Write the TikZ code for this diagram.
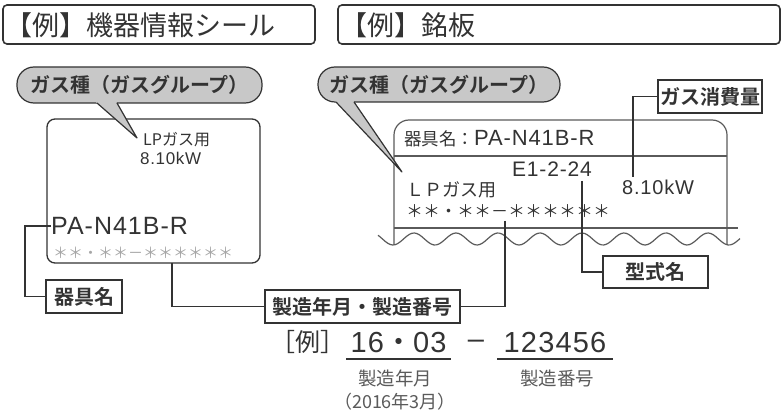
\documentclass[tikz,border=0pt]{standalone}
\usepackage{fontspec}
\setmainfont{Noto Sans CJK JP}[BoldFont={Noto Sans CJK JP Bold}]
\newfontfamily\lat[LetterSpace=4]{Liberation Sans}
\usetikzlibrary{positioning}

\definecolor{tinta}{HTML}{333333}
\definecolor{cinza}{HTML}{5A5A5A}
\definecolor{balao}{HTML}{C8C8C8}

\tikzset{
  fs/.style={font=\fontsize{#1}{#1}\selectfont},
  lt/.style={font=\lat\fontsize{#1}{#1}\selectfont},
  titulo/.style={draw=tinta, line width=1.6pt, rounded corners=4pt},
  bolha/.style={draw=tinta, fill=balao, line width=1.2pt, rounded corners=17pt,
    inner sep=0pt, font=\bfseries\fontsize{20}{20}\selectfont},
  cauda/.style={draw=tinta, line width=1.2pt, line join=round},
  etiqueta/.style={draw=tinta, line width=1.5pt, fill=white, inner sep=0pt,
    font=\bfseries\fontsize{20}{20}\selectfont},
  conn/.style={draw=tinta, line width=1.5pt},
  placa/.style={draw=cinza, line width=1.2pt},
}

\begin{document}
\begin{tikzpicture}[x=1pt, y=-1pt, every node/.style={text=tinta, inner sep=0pt}]
  \useasboundingbox (0,0) rectangle (782,414);

  % Titulos
  \draw[titulo] (3,5) rectangle (315,44);
  \node[fs=27, anchor=west] (tit1) at (5,25) {【例】機器情報シール};
  \draw[titulo] (338,5) rectangle (780,44);
  \node[fs=27, anchor=west] (tit2) at (340,25) {【例】銘板};

  % Selo (esquerda)
  \draw[tinta, line width=1.3pt, rounded corners=8pt] (47,119) rectangle (260,263);
  \node[fs=16, anchor=west] (lpL) at (143,140) {LPガス用};
  \node[lt=17, anchor=west] (kwL) at (140,158) {8.10kW};
  \node[lt=25, anchor=west] (paL) at (51,226) {PA-N41B-R};
  \node[fs=15, text=gray!70, anchor=west] (astL) at (53,253) {＊＊・＊＊－＊＊＊＊＊＊};
  \coordinate (pTap) at (172,263);

  % Balao (esquerda)
  \node[bolha, minimum width=245, minimum height=36] (gasL) at (139.5,85) {ガス種（ガスグループ）};
  \fill[balao] (93.6,100) -- (137,138) -- (115.3,100) -- cycle;
  \draw[cauda] (97,103) -- (137,138) -- (117,103);

  % Placa (direita)
  \draw[placa, rounded corners=15pt] (394,245) -- (394,120) -- (727,120) -- (727,245);
  \draw[placa] (394,156) -- (727,156);
  \draw[placa] (394,228) -- (738,228);
  \draw[placa, domain=378:740, samples=150, smooth, variable=\x]
    plot ({\x}, {239+6*cos((\x-393)/42*360)});

  \node[anchor=west] (nome) at (404,139)
    {{\fontsize{17.5}{17.5}\selectfont 器具名：}{\lat\fontsize{22}{22}\selectfont PA-N41B-R}};
  \node[lt=21] (e124) at (552,169.5) {E1-2-24};
  \node[fs=18, anchor=west] (lpR) at (406,190) {ＬＰガス用};
  \node[lt=20, anchor=west] (kwR) at (622,187) {8.10kW};
  \node[fs=17, anchor=west] (astR) at (406,211) {＊＊・＊＊－＊＊＊＊＊＊};
  \coordinate (eTap) at (582,181);
  \coordinate (kwTap) at (633,177);
  \coordinate (astTap) at (505,221);

  % Balao (direita)
  \node[bolha, minimum width=242, minimum height=35] (gasR) at (439,84.5) {ガス種（ガスグループ）};
  \fill[balao] (333.4,99) -- (402,172) -- (352.1,99) -- cycle;
  \draw[cauda] (336,102) -- (402,172) -- (354,102);

  % Etiquetas
  \node[etiqueta, minimum width=76, minimum height=33] (kigu) at (84,296.5) {器具名};
  \node[etiqueta, minimum width=195, minimum height=33] (mfg) at (362.5,306.5) {製造年月・製造番号};
  \node[etiqueta, minimum width=105, minimum height=32] (kata) at (655.5,272) {型式名};
  \node[etiqueta, minimum width=104, minimum height=33] (cons) at (710,96.5) {ガス消費量};

  % Ligacoes
  \draw[conn] (paL.west) -- ++(-26,0) |- (kigu.west);
  \draw[conn] (pTap) |- (mfg.west);
  \draw[conn] (astTap) |- (mfg.east);
  \draw[conn] (eTap) |- (kata.west);
  \draw[conn] (kwTap) |- (cons.west);

  % Exemplo
  \node[fs=25, anchor=west] (rei) at (270,342) {［例］};
  \node[lt=29] (data) at (398.5,343) {16{\normalfont・}03};
  \node[lt=29] (traco) at (476,344) {–};
  \node[lt=29] (serie) at (555,343) {123456};
  \draw[tinta, line width=2.4pt] (346,359) -- (451,359);
  \draw[tinta, line width=2.4pt] (497,359) -- (613,359);
  \node[fs=18.5, text=cinza] (ano) at (395,378) {製造年月};
  \node[fs=18, text=cinza, below=6pt of ano] (ano2) {（2016年3月）};
  \node[fs=18.5, text=cinza] (num) at (557,378) {製造番号};
\end{tikzpicture}
\end{document}
